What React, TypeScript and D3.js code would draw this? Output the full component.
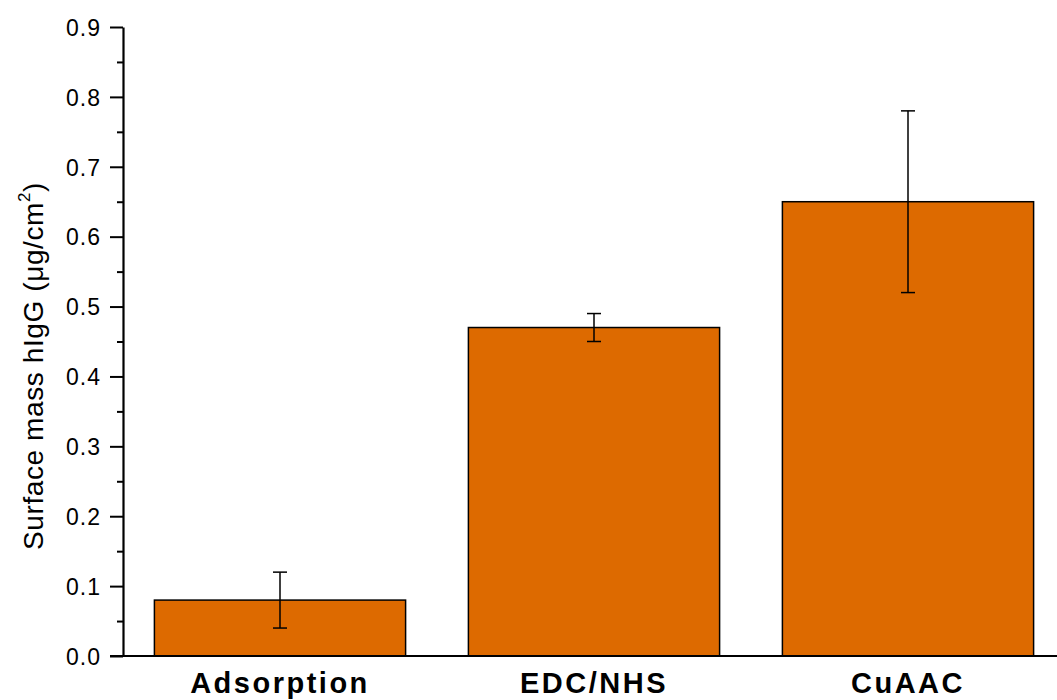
import React, { useEffect, useRef } from "react";
import * as d3 from "d3";

const categories = ["Adsorption", "EDC/NHS", "CuAAC"];
const surfaceMass = [0.08, 0.47, 0.65];
const errors = [0.04, 0.02, 0.13];
const yTicks = [0, 0.1, 0.2, 0.3, 0.4, 0.5, 0.6, 0.7, 0.8, 0.9];

const App: React.FC = () => {
  const svgRef = useRef<SVGSVGElement>(null);

  useEffect(() => {
    if (!svgRef.current) return;
    const width = 1057;
    const height = 700;
    const margin = { top: 27, left: 123, bottom: 44 };
    const font = "Arial, 'Liberation Sans', sans-serif";

    const svg = d3.select(svgRef.current);
    svg.selectAll("*").remove();

    const x = d3
      .scaleBand<string>()
      .domain(categories)
      .range([margin.left, 1065])
      .paddingInner(0.2)
      .paddingOuter(0.1);

    const y = d3
      .scaleLinear()
      .domain([0, 0.9])
      .range([height - margin.bottom, margin.top]);

    const data = categories.map((c, i) => ({
      label: c,
      value: surfaceMass[i],
      err: errors[i],
    }));

    // bars
    svg
      .append("g")
      .selectAll("rect")
      .data(data)
      .enter()
      .append("rect")
      .attr("x", (d) => x(d.label)!)
      .attr("y", (d) => y(d.value))
      .attr("width", x.bandwidth())
      .attr("height", (d) => y(0) - y(d.value))
      .attr("fill", "#dd6a00")
      .attr("stroke", "#000")
      .attr("stroke-width", 1.5);

    // error bars
    const eb = svg
      .append("g")
      .selectAll("g")
      .data(data)
      .enter()
      .append("g")
      .attr("stroke", "#000")
      .attr("stroke-width", 1.5);
    const cx = (d: { label: string }) => x(d.label)! + x.bandwidth() / 2;
    eb.append("line")
      .attr("x1", cx)
      .attr("x2", cx)
      .attr("y1", (d) => y(d.value + d.err))
      .attr("y2", (d) => y(d.value - d.err));
    eb.append("line")
      .attr("x1", (d) => cx(d) - 7)
      .attr("x2", (d) => cx(d) + 7)
      .attr("y1", (d) => y(d.value + d.err))
      .attr("y2", (d) => y(d.value + d.err));
    eb.append("line")
      .attr("x1", (d) => cx(d) - 7)
      .attr("x2", (d) => cx(d) + 7)
      .attr("y1", (d) => y(d.value - d.err))
      .attr("y2", (d) => y(d.value - d.err));

    // y axis
    const yAxis = svg
      .append("g")
      .attr("transform", `translate(${margin.left},0)`);
    yAxis
      .append("g")
      .call(
        d3
          .axisLeft(y)
          .tickValues(d3.range(0.05, 0.9, 0.1))
          .tickSize(6)
          .tickFormat(() => ""),
      )
      .call((g) => g.select(".domain").remove())
      .selectAll("line")
      .attr("stroke-width", 2);
    const major = yAxis
      .append("g")
      .call(
        d3
          .axisLeft(y)
          .tickValues(yTicks)
          .tickSize(13)
          .tickSizeOuter(0)
          .tickPadding(9)
          .tickFormat(d3.format(".1f")),
      );
    major.select(".domain").attr("stroke-width", 2.2);
    major.selectAll("line").attr("stroke-width", 2);
    major
      .selectAll("text")
      .attr("font-family", font)
      .attr("font-size", 23)
      .attr("letter-spacing", 1)
      .attr("dy", "0.36em")
      .attr("fill", "#000");

    // x axis
    svg
      .append("line")
      .attr("x1", margin.left - 13)
      .attr("x2", width)
      .attr("y1", y(0))
      .attr("y2", y(0))
      .attr("stroke", "#000")
      .attr("stroke-width", 2.2);

    svg
      .append("g")
      .selectAll("text")
      .data(categories)
      .enter()
      .append("text")
      .attr("x", (d) => x(d)! + x.bandwidth() / 2)
      .attr("y", 693)
      .attr("text-anchor", "middle")
      .attr("font-family", font)
      .attr("font-size", 29)
      .attr("font-weight", "bold")
      .attr("letter-spacing", 2.5)
      .text((d) => d);

    // y label
    const yl = svg
      .append("text")
      .attr("transform", `translate(43,366) rotate(-90)`)
      .attr("text-anchor", "middle")
      .attr("font-family", font)
      .attr("font-size", 28)
      .attr("letter-spacing", 0.6);
    yl.append("tspan").text("Surface mass hIgG (\u03bcg/cm");
    yl.append("tspan")
      .attr("dy", -13)
      .attr("font-size", 17)
      .text("2");
    yl.append("tspan").attr("dy", 13).text(")");
  }, []);

  return (
    <svg
      ref={svgRef}
      width={1057}
      height={700}
      style={{ position: "absolute", left: 0, top: 0, background: "#fff" }}
    />
  );
};

export default App;
